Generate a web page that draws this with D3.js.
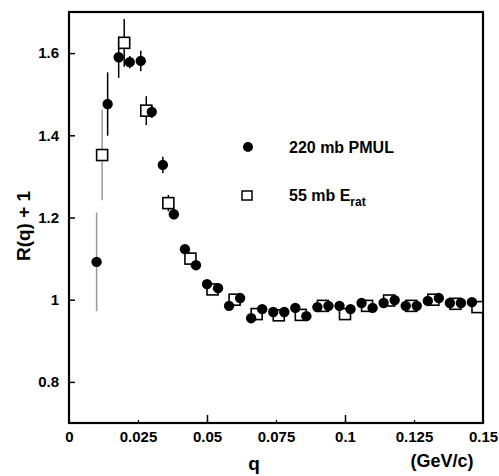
<!DOCTYPE html>
<html><head><meta charset="utf-8">
<script src="https://cdn.jsdelivr.net/npm/d3@7"></script>
<style>
body{margin:0;background:#fff;}
text{font-family:"Liberation Sans",Arial,Helvetica,sans-serif;font-weight:bold;fill:#000;}
</style></head>
<body><svg id="c" width="499" height="476"></svg>
<script>
// 220 mb PMUL (filled circles)
const pmulQ = [0.010,0.014,0.018,0.022,0.026,0.030,0.034,0.038,0.042,0.046,0.050,0.054,0.058,0.062,0.066,0.070,0.074,0.078,0.082,0.086,0.090,0.094,0.098,0.102,0.106,0.110,0.114,0.118,0.122,0.126,0.130,0.134,0.138,0.142,0.146];
const pmulR = [1.092,1.476,1.590,1.578,1.581,1.457,1.328,1.208,1.123,1.084,1.038,1.028,0.985,1.004,0.955,0.977,0.970,0.970,0.980,0.960,0.982,0.985,0.985,0.977,0.992,0.980,0.992,0.999,0.985,0.985,0.997,1.004,0.992,0.992,0.994];
const pmulErr = [0.12,0.077,0.05,0.015,0.025,0.015,0.02,0.012,0.01,0.01,0.01,0.01,0.01,0.01,0.01,0.01,0.01,0.01,0.01,0.01,0.01,0.01,0.01,0.01,0.01,0.01,0.01,0.01,0.01,0.01,0.01,0.01,0.01,0.01,0.01];
// 55 mb E_rat (open squares)
const eratQ = [0.012,0.020,0.028,0.036,0.044,0.052,0.060,0.068,0.076,0.084,0.092,0.100,0.108,0.116,0.124,0.132,0.140,0.148];
const eratR = [1.352,1.625,1.460,1.235,1.100,1.025,1.000,0.965,0.962,0.963,0.985,0.965,0.985,0.998,0.985,1.000,0.990,0.982];
const eratErr = [0.11,0.058,0.035,0.02,0.015,0.012,0.012,0.012,0.012,0.012,0.012,0.012,0.012,0.012,0.012,0.012,0.012,0.012];
const xMajor = [0, 0.05, 0.1, 0.15];
const xLabels = [0, 0.025, 0.05, 0.075, 0.1, 0.125, 0.15];
const yTicks = [0.8, 1.0, 1.2, 1.4, 1.6];
const yLabelText = ["0.8","1","1.2","1.4","1.6"];

const svg = d3.select("#c");
const x = d3.scaleLinear().domain([0,0.15]).range([69,483]);
const y = d3.scaleLinear().domain([0.7,1.7]).range([423,12]);

// x axis labels
const xa = svg.append("g").attr("transform","translate(0,423)")
  .call(d3.axisBottom(x).tickValues(xLabels).tickSize(-3).tickPadding(8)
    .tickFormat(d => d===0 ? "0" : String(d)));
xa.select(".domain").remove();
xa.selectAll("text").attr("font-size",15).attr("font-family",null);
xa.selectAll("line").attr("stroke","#000").attr("stroke-width",1.2);
svg.append("g").attr("transform","translate(0,423)")
  .call(d3.axisBottom(x).tickValues(xMajor.slice(1,3)).tickSize(-8).tickFormat(""))
  .call(g=>g.select(".domain").remove())
  .selectAll("line").attr("stroke","#000").attr("stroke-width",1.5);

// y axis
const ya = svg.append("g").attr("transform","translate(69,0)")
  .call(d3.axisLeft(y).tickValues(yTicks).tickSize(-6).tickPadding(10)
    .tickFormat((d,i)=>yLabelText[i]));
ya.select(".domain").remove();
ya.selectAll("text").attr("font-size",15).attr("font-family",null);
ya.selectAll("line").attr("stroke","#000").attr("stroke-width",1.5);

// frame
svg.append("rect").attr("x",x(0)).attr("y",y(1.7)).attr("width",x(0.15)-x(0)).attr("height",y(0.7)-y(1.7))
  .attr("fill","none").attr("stroke","#000").attr("stroke-width",2.2);

// error bars
const erat = eratQ.map((q,i)=>({q, r:eratR[i], e:eratErr[i], i}));
const pmul = pmulQ.map((q,i)=>({q, r:pmulR[i], e:pmulErr[i], i}));
svg.append("g").selectAll("line").data(erat).join("line")
  .attr("x1",d=>x(d.q)).attr("x2",d=>x(d.q))
  .attr("y1",d=>y(d.r+d.e)).attr("y2",d=>y(d.r-d.e))
  .attr("stroke",d=>d.i===0?"#999":"#000").attr("stroke-width",d=>d.i===0?1.5:1.5);
svg.append("g").selectAll("line").data(pmul).join("line")
  .attr("x1",d=>x(d.q)).attr("x2",d=>x(d.q))
  .attr("y1",d=>y(d.r+d.e)).attr("y2",d=>y(d.r-d.e))
  .attr("stroke",d=>d.i===0?"#999":"#000").attr("stroke-width",1.5);

// squares
const s = 11;
svg.append("g").selectAll("rect").data(erat).join("rect")
  .attr("x",d=>x(d.q)-s/2).attr("y",d=>y(d.r)-s/2).attr("width",s).attr("height",s)
  .attr("fill","#fff").attr("stroke","#000").attr("stroke-width",1.6);
// circles
svg.append("g").selectAll("circle").data(pmul).join("circle")
  .attr("cx",d=>x(d.q)).attr("cy",d=>y(d.r)).attr("r",5.2).attr("fill","#000");

// legend
svg.append("circle").attr("cx",248).attr("cy",147).attr("r",5).attr("fill","#000");
svg.append("text").attr("x",289).attr("y",153).attr("font-size",16).text("220 mb PMUL");
svg.append("rect").attr("x",242).attr("y",191).attr("width",10).attr("height",9)
  .attr("fill","#fff").attr("stroke","#000").attr("stroke-width",1.5);
const lt = svg.append("text").attr("x",289).attr("y",201).attr("font-size",16);
lt.append("tspan").text("55 mb E");
lt.append("tspan").attr("dy",5).attr("font-size",12).text("rat");

// axis titles
svg.append("text").attr("x",254).attr("y",470).attr("text-anchor","middle").attr("font-size",19).text("q");
svg.append("text").attr("x",442).attr("y",467).attr("text-anchor","middle").attr("font-size",18).text("(GeV/c)");
svg.append("text").attr("transform","translate(30,226) rotate(-90)").attr("text-anchor","middle").attr("font-size",19).text("R(q) + 1");
</script></body></html>
